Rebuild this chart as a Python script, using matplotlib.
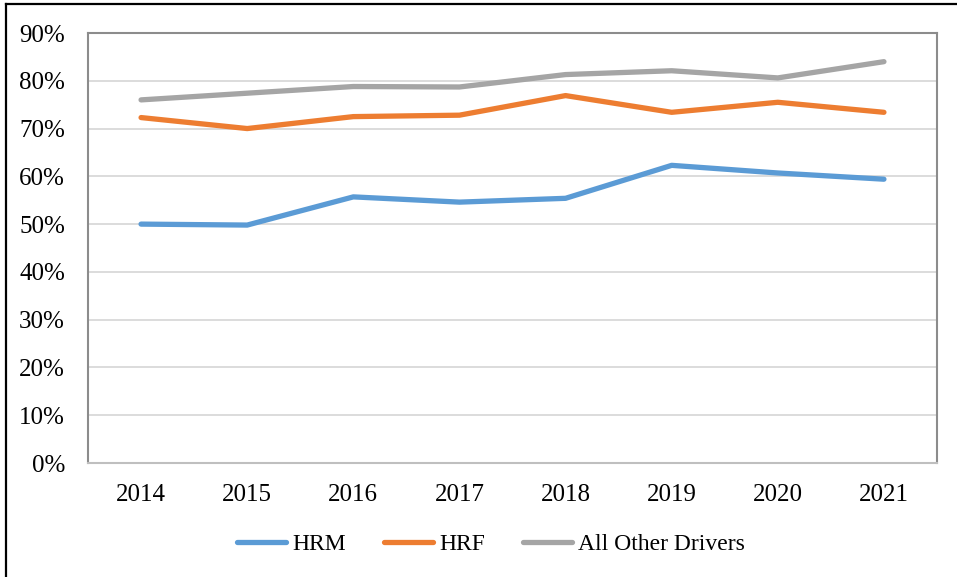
import matplotlib
matplotlib.use("Agg")
import matplotlib.pyplot as plt
from matplotlib.lines import Line2D
from matplotlib.ticker import FuncFormatter

years = ["2014", "2015", "2016", "2017", "2018", "2019", "2020", "2021"]
hrm = [0.500, 0.498, 0.557, 0.546, 0.554, 0.623, 0.607, 0.594]
hrf = [0.723, 0.700, 0.725, 0.728, 0.769, 0.734, 0.755, 0.734]
other = [0.760, 0.774, 0.788, 0.787, 0.813, 0.821, 0.806, 0.840]
series_names = ["HRM", "HRF", "All Other Drivers"]
colors = ["#5B9BD5", "#ED7D31", "#A5A5A5"]

plt.rcParams['font.family'] = ['Liberation Serif', 'DejaVu Serif']
fs = 18
lfs = 17

fig = plt.figure(figsize=(9.57, 5.77), dpi=100)
ax = fig.add_axes([88/957, 1-463/577, (937-88)/957, (463-33)/577])

x = list(range(len(years)))
for vals, name, c in zip([hrm, hrf, other], series_names, colors):
    ax.plot(x, vals, color=c, lw=3.8, label=name, solid_capstyle='round', solid_joinstyle='round')

ax.set_xlim(-0.5, len(years) - 0.5)
ax.set_ylim(0, 0.9)
ax.set_yticks([i / 10 for i in range(10)])
ax.yaxis.set_major_formatter(FuncFormatter(lambda v, p: f"{v*100:.0f}%"))
ax.set_xticks(x)
ax.set_xticklabels(years)
ax.tick_params(axis='both', length=0, labelsize=fs, colors='black')
ax.tick_params(axis='y', pad=16.5)
ax.tick_params(axis='x', pad=15)
ax.grid(axis='y', color='#D9D9D9', lw=1.3)
ax.set_axisbelow(True)
for s in ax.spines.values():
    s.set_color('#8C8C8C')
    s.set_linewidth(1.5)
ax.spines['bottom'].set_color('#BFBFBF')

handles, labels = ax.get_legend_handles_labels()
fig.legend(handles, labels, loc='center', bbox_to_anchor=(491/957, 1-544/577),
           ncol=3, frameon=False, fontsize=lfs, handlelength=2.1, handletextpad=0.25,
           columnspacing=1.6)

# outer border (top and left)
fig.add_artist(Line2D([6/957, 1], [1-4/577, 1-4/577], transform=fig.transFigure, color='black', lw=1.6))
fig.add_artist(Line2D([6/957, 6/957], [0, 1-4/577], transform=fig.transFigure, color='black', lw=1.6))

fig.savefig("out.png", dpi=100)
